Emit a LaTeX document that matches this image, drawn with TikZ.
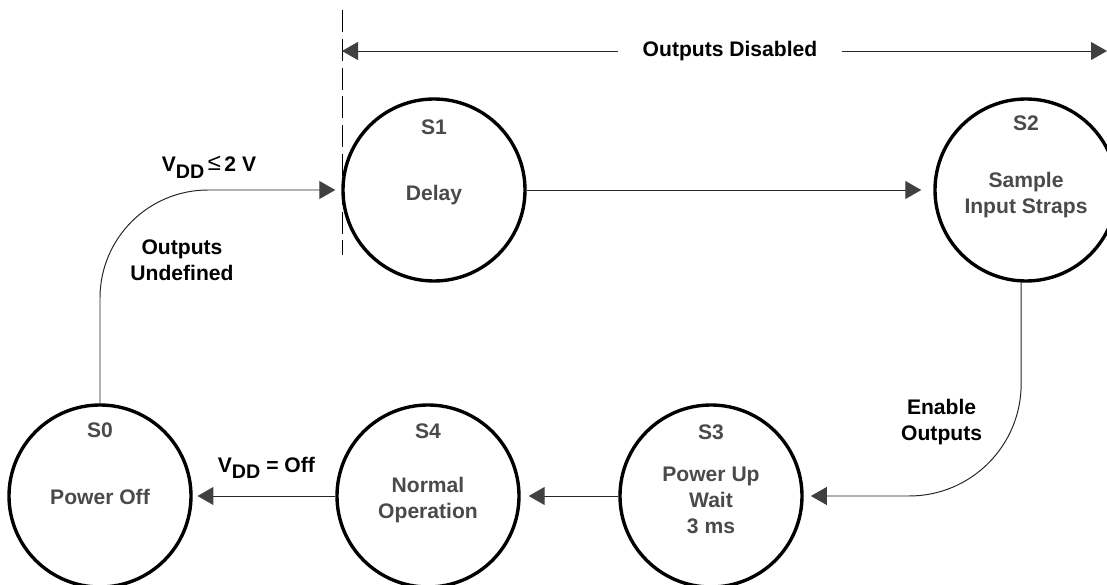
\documentclass[tikz,border=0pt]{standalone}
\usepackage{fontspec}
\setmainfont{Liberation Sans}
\usetikzlibrary{arrows.meta}
\definecolor{statetext}{HTML}{4A4A4A}
\definecolor{tipgray}{HTML}{404040}
\newcommand{\vdd}{V\raisebox{-4.5pt}{\fontsize{14}{14}\selectfont DD}}
\begin{document}
\begin{tikzpicture}[font=\fontsize{15}{18.5}\selectfont\bfseries]
            \tikzstyle{state} = [circle, draw, line width=2.4pt, minimum size=4.55cm, inner sep=0pt]
            \tikzstyle{tag} = [text=statetext, align=center]
            \tikzstyle{flow} = [line width=0.7pt, draw=black!85, -{Triangle[length=0.4cm, width=0.45cm, color=tipgray]}]
            \useasboundingbox (0, 0) rectangle (27.675, 14.6);

            % states
            \node[state] (S1) at (10.85, 9.85) {};
            \node[state] (S2) at (25.65, 9.85) {};
            \node[state] (S0) at (2.5, 2.2) {};
            \node[state] (S4) at (10.7, 2.2) {};
            \node[state] (S3) at (17.775, 2.2) {};
            \node[tag] (t1) at (10.85, 11.425) {S1};
            \node[tag] (t2) at (25.65, 11.525) {S2};
            \node[tag] (t0) at (2.5, 3.85) {S0};
            \node[tag] (t4) at (10.7, 3.82) {S4};
            \node[tag] (t3) at (17.775, 3.8) {S3};
            \node[tag] (n1) at (10.85, 9.725) {Delay};
            \node[tag] (n2) at (25.65, 9.725) {Sample\\Input Straps};
            \node[tag] (n0) at (2.5, 2.175) {Power Off};
            \node[tag] (n4) at (10.7, 2.1) {Normal\\Operation};
            \node[tag] (n3) at (17.775, 2.1) {Power Up\\Wait\\3 ms};

            % transitions
            \draw[flow, rounded corners=2.7cm, shorten >=0.15cm] (S0.north) |- (S1.west);
            \draw[flow, shorten >=0.3cm] (S1) -- (S2);
            \draw[flow, rounded corners=2.8cm, shorten >=0.18cm] (S2.-93) |- (S3.east);
            \draw[flow, shorten >=0.2cm] (S3) -- (S4);
            \draw[flow, shorten >=0.12cm] (S4) -- (S0);
            \node (vlow) at (5.225, 10.425) {\vdd\,{\fontsize{17}{17}\selectfont\mdseries\raisebox{1pt}{≤}}\,2 V};
            \node[align=center] (undef) at (4.55, 8.09) {Outputs\\Undefined};
            \node (voff) at (6.66, 2.9) {\vdd{} = Off};
            \node[align=center] (enab) at (23.54, 4.05) {Enable\\Outputs};

            % outputs disabled span
            \draw[line width=0.7pt, dash pattern=on 0.55cm off 0.17cm] (8.55, 14.35) -- (8.55, 8.225);
            \coordinate (dl) at (8.55, 13.325);
            \coordinate (dr) at (27.675, 13.325);
            \node[inner xsep=0.6cm] (dis) at (18.25, 13.325) {Outputs Disabled};
            \draw[flow] (dis.west) -- (dl);
            \draw[flow] (dis.east) -- (dr);
        \end{tikzpicture}
\end{document}
